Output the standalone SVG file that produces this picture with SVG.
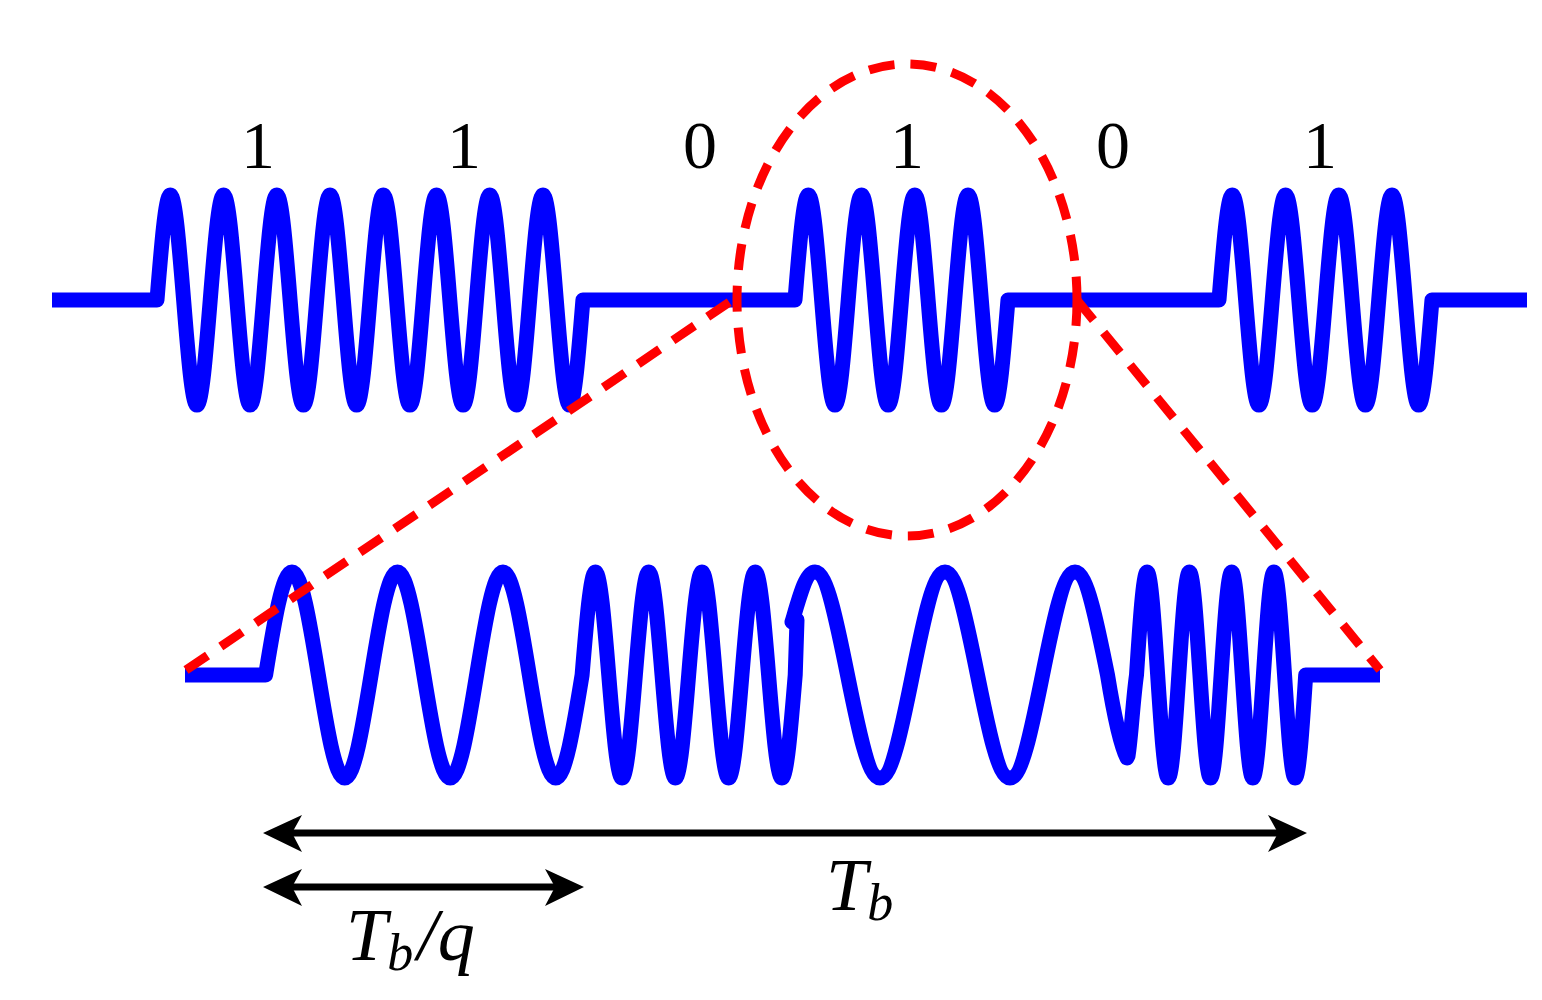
<svg xmlns="http://www.w3.org/2000/svg" width="1542" height="1000" viewBox="0 0 1542 1000">
<style>
.w{fill:none;stroke:#0000ff;stroke-width:15;stroke-linejoin:round}
.r{fill:none;stroke:#ff0000;stroke-width:9;stroke-dasharray:26 16}
.a{stroke:#000;stroke-width:7;fill:none}
.h{fill:#000}
.t{font-family:"Liberation Serif",serif;font-size:68px;fill:#000}
.m{font-family:"Liberation Serif",serif;font-style:italic;font-size:74px;fill:#000}
.s{font-family:"Liberation Serif",serif;font-style:italic;font-size:52px;fill:#000}
</style>
<defs>
<path id="hd" d="M0,0 L39,-18 L29,0 L39,19 Z"/>
</defs>
<g id="labels">
<text class="t" x="258" y="168" text-anchor="middle">1</text>
<text class="t" x="464" y="168" text-anchor="middle">1</text>
<text class="t" x="700" y="168" text-anchor="middle">0</text>
<text class="t" x="907" y="168" text-anchor="middle">1</text>
<text class="t" x="1113" y="168" text-anchor="middle">0</text>
<text class="t" x="1320" y="168" text-anchor="middle">1</text>
</g>
<g id="top-signal">
<path class="w" d="M52,300 H157 c4.34,-53.79 8.5,-105 13.31,-105 c4.82,0 8.97,51.21 13.31,105 c4.34,53.79 8.5,105 13.31,105 c4.82,0 8.97,-51.21 13.31,-105 c4.34,-53.79 8.5,-105 13.31,-105 c4.82,0 8.97,51.21 13.31,105 c4.34,53.79 8.5,105 13.31,105 c4.82,0 8.97,-51.21 13.31,-105 c4.34,-53.79 8.5,-105 13.31,-105 c4.82,0 8.97,51.21 13.31,105 c4.34,53.79 8.5,105 13.31,105 c4.82,0 8.97,-51.21 13.31,-105 c4.34,-53.79 8.5,-105 13.31,-105 c4.82,0 8.97,51.21 13.31,105 c4.34,53.79 8.5,105 13.31,105 c4.82,0 8.97,-51.21 13.31,-105 c4.34,-53.79 8.5,-105 13.31,-105 c4.82,0 8.97,51.21 13.31,105 c4.34,53.79 8.5,105 13.31,105 c4.82,0 8.97,-51.21 13.31,-105 c4.34,-53.79 8.5,-105 13.31,-105 c4.82,0 8.97,51.21 13.31,105 c4.34,53.79 8.5,105 13.31,105 c4.82,0 8.97,-51.21 13.31,-105 c4.34,-53.79 8.5,-105 13.31,-105 c4.82,0 8.97,51.21 13.31,105 c4.34,53.79 8.5,105 13.31,105 c4.82,0 8.97,-51.21 13.31,-105 c4.34,-53.79 8.5,-105 13.31,-105 c4.82,0 8.97,51.21 13.31,105 c4.34,53.79 8.5,105 13.31,105 c4.82,0 8.97,-51.21 13.31,-105
H795 c4.34,-53.79 8.5,-105 13.31,-105 c4.82,0 8.97,51.21 13.31,105 c4.34,53.79 8.5,105 13.31,105 c4.82,0 8.97,-51.21 13.31,-105 c4.34,-53.79 8.5,-105 13.31,-105 c4.82,0 8.97,51.21 13.31,105 c4.34,53.79 8.5,105 13.31,105 c4.82,0 8.97,-51.21 13.31,-105 c4.34,-53.79 8.5,-105 13.31,-105 c4.82,0 8.97,51.21 13.31,105 c4.34,53.79 8.5,105 13.31,105 c4.82,0 8.97,-51.21 13.31,-105 c4.34,-53.79 8.5,-105 13.31,-105 c4.82,0 8.97,51.21 13.31,105 c4.34,53.79 8.5,105 13.31,105 c4.82,0 8.97,-51.21 13.31,-105
H1219 c4.34,-53.79 8.5,-105 13.31,-105 c4.82,0 8.97,51.21 13.31,105 c4.34,53.79 8.5,105 13.31,105 c4.82,0 8.97,-51.21 13.31,-105 c4.34,-53.79 8.5,-105 13.31,-105 c4.82,0 8.97,51.21 13.31,105 c4.34,53.79 8.5,105 13.31,105 c4.82,0 8.97,-51.21 13.31,-105 c4.34,-53.79 8.5,-105 13.31,-105 c4.82,0 8.97,51.21 13.31,105 c4.34,53.79 8.5,105 13.31,105 c4.82,0 8.97,-51.21 13.31,-105 c4.34,-53.79 8.5,-105 13.31,-105 c4.82,0 8.97,51.21 13.31,105 c4.34,53.79 8.5,105 13.31,105 c4.82,0 8.97,-51.21 13.31,-105
H1527"/>
</g>
<g id="bottom-signal">
<path class="w" d="M185,675 H265.6 c8.6,-52.77 16.83,-103 26.375,-103 c9.55,0 17.77,50.23 26.375,103 c8.6,52.77 16.83,103 26.375,103 c9.55,0 17.77,-50.23 26.375,-103 c8.6,-52.77 16.83,-103 26.375,-103 c9.55,0 17.77,50.23 26.375,103 c8.6,52.77 16.83,103 26.375,103 c9.55,0 17.77,-50.23 26.375,-103 c8.6,-52.77 16.83,-103 26.375,-103 c9.55,0 17.77,50.23 26.375,103 c8.6,52.77 16.83,103 26.375,103 c9.55,0 17.77,-50.23 26.375,-103
c4.35,-52.77 8.5,-103 13.32,-103 c4.82,0 8.98,50.23 13.32,103 c4.35,52.77 8.5,103 13.32,103 c4.82,0 8.98,-50.23 13.32,-103 c4.35,-52.77 8.5,-103 13.32,-103 c4.82,0 8.98,50.23 13.32,103 c4.35,52.77 8.5,103 13.32,103 c4.82,0 8.98,-50.23 13.32,-103 c4.35,-52.77 8.5,-103 13.32,-103 c4.82,0 8.98,50.23 13.32,103 c4.35,52.77 8.5,103 13.32,103 c4.82,0 8.98,-50.23 13.32,-103 c4.35,-52.77 8.5,-103 13.32,-103 c4.82,0 8.98,50.23 13.32,103 c4.35,52.77 8.5,103 13.32,103 c4.82,0 8.98,-50.23 13.32,-103
L797,620 L792,622 C800,595 806,572 815,572 c11.76,0 21.9,50.23 32.5,103 c10.6,52.77 20.74,103 32.5,103 c11.76,0 21.9,-50.23 32.5,-103 c10.6,-52.77 20.74,-103 32.5,-103 c11.76,0 21.9,50.23 32.5,103 c10.6,52.77 20.74,103 32.5,103 c11.76,0 21.9,-50.23 32.5,-103 c10.6,-52.77 20.74,-103 32.5,-103 c11.76,0 21.9,50.23 32.5,103 c6.5,40 13,70 19.5,83
L1128,756 C1131,738 1133,700 1136.5,675 c3.45,-52.77 6.75,-103 10.575,-103 c3.83,0 7.13,50.23 10.575,103 c3.45,52.77 6.75,103 10.575,103 c3.83,0 7.13,-50.23 10.575,-103 c3.45,-52.77 6.75,-103 10.575,-103 c3.83,0 7.13,50.23 10.575,103 c3.45,52.77 6.75,103 10.575,103 c3.83,0 7.13,-50.23 10.575,-103 c3.45,-52.77 6.75,-103 10.575,-103 c3.83,0 7.13,50.23 10.575,103 c3.45,52.77 6.75,103 10.575,103 c3.83,0 7.13,-50.23 10.575,-103 c3.45,-52.77 6.75,-103 10.575,-103 c3.83,0 7.13,50.23 10.575,103 c3.45,52.77 6.75,103 10.575,103 c3.83,0 7.13,-50.23 10.575,-103
H1380"/>
</g>
<g id="zoom-marks">
<ellipse class="r" cx="907" cy="300" rx="170" ry="236"/>
<line class="r" x1="186" y1="670" x2="737" y2="297"/>
<line class="r" x1="1077" y1="300" x2="1380" y2="670"/>
</g>
<g id="arrows">
<line class="a" x1="280" y1="833" x2="1290" y2="833"/>
<use href="#hd" class="h" transform="translate(263,833)"/>
<use href="#hd" class="h" transform="translate(1307,833) scale(-1,1)"/>
<line class="a" x1="280" y1="887" x2="567" y2="887"/>
<use href="#hd" class="h" transform="translate(263,887)"/>
<use href="#hd" class="h" transform="translate(584,887) scale(-1,1)"/>
</g>
<g id="dim-labels">
<text x="826" y="910"><tspan class="m">T</tspan><tspan class="s" dy="10">b</tspan></text>
<text x="346" y="960"><tspan class="m">T</tspan><tspan class="s" dy="10">b</tspan><tspan class="m" dy="-10" dx="4">/q</tspan></text>
</g>
</svg>
